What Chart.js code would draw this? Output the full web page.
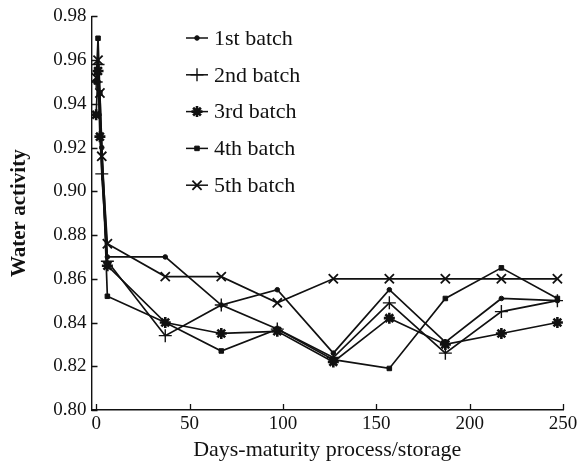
<!DOCTYPE html>
<html>
<head>
<meta charset="utf-8">
<script src="https://cdn.jsdelivr.net/npm/chart.js@4/dist/chart.umd.min.js"></script>
<style>
  html, body { margin: 0; padding: 0; background: #fff; }
  #wrap { width: 582px; height: 465px; position: relative; }
</style>
</head>
<body>
<div id="wrap"><canvas id="c" width="582" height="465"></canvas></div>
<script>
// ---- data ----
const seriesNames = ['1st batch', '2nd batch', '3rd batch', '4th batch', '5th batch'];
const tailDays = [6, 37, 67, 97, 127, 157, 187, 217, 247];

const batch1Days = [0, 1, 3];
const batch1Early = [0.955, 0.950, 0.920];
const batch1Tail = [0.870, 0.870, 0.848, 0.855, 0.826, 0.855, 0.831, 0.851, 0.850];

const batch2Days = [0, 1, 3];
const batch2Early = [0.950, 0.958, 0.908];
const batch2Tail = [0.868, 0.834, 0.848, 0.837, 0.824, 0.849, 0.826, 0.845, 0.850];

const batch3Days = [0, 1, 2];
const batch3Early = [0.935, 0.955, 0.925];
const batch3Tail = [0.866, 0.840, 0.835, 0.836, 0.822, 0.842, 0.830, 0.835, 0.840];

const batch4Days = [0, 1, 2];
const batch4Early = [0.950, 0.970, 0.945];
const batch4Tail = [0.852, 0.840, 0.827, 0.837, 0.823, 0.819, 0.851, 0.865, 0.851];

const batch5Days = [0, 1, 2, 3];
const batch5Early = [0.952, 0.960, 0.945, 0.916];
const batch5Tail = [0.876, 0.861, 0.861, 0.849, 0.860, 0.860, 0.860, 0.860, 0.860];

const xTicks = [0, 50, 100, 150, 200, 250];
const yTicks = [0.80, 0.82, 0.84, 0.86, 0.88, 0.90, 0.92, 0.94, 0.96, 0.98];

// ---- build ----
function pts(days, early, tail) {
  const out = [];
  days.forEach((d, i) => out.push({x: d, y: early[i]}));
  tailDays.forEach((d, i) => out.push({x: d, y: tail[i]}));
  return out;
}
const allData = [
  pts(batch1Days, batch1Early, batch1Tail),
  pts(batch2Days, batch2Early, batch2Tail),
  pts(batch3Days, batch3Early, batch3Tail),
  pts(batch4Days, batch4Early, batch4Tail),
  pts(batch5Days, batch5Early, batch5Tail)
];
const styles = [
  {pointStyle: 'circle', radius: 2.3, borderWidth: 1},
  {pointStyle: 'cross', radius: 6.5, borderWidth: 1.4},
  {pointStyle: 'star', radius: 5.5, borderWidth: 2.6},
  {pointStyle: 'rect', radius: 3.2, borderWidth: 1},
  {pointStyle: 'crossRot', radius: 6.5, borderWidth: 1.8}
];
const INK = '#111';
const datasets = allData.map((d, i) => ({
  label: seriesNames[i],
  data: d,
  borderColor: INK,
  backgroundColor: INK,
  borderWidth: 1.7,
  pointStyle: styles[i].pointStyle,
  pointRadius: styles[i].radius,
  pointBorderWidth: styles[i].borderWidth,
  pointBackgroundColor: INK,
  pointBorderColor: INK,
  tension: 0,
  fill: false
}));

const SERIF = "'Liberation Serif', 'DejaVu Serif', serif";

const inwardTicks = {
  id: 'inwardTicks',
  afterDatasetsDraw(chart) {
    const ctx = chart.ctx;
    const xs = chart.scales.x, ys = chart.scales.y;
    const a = chart.chartArea;
    ctx.save();
    ctx.strokeStyle = INK;
    ctx.lineWidth = 1.3;
    ctx.beginPath();
    yTicks.forEach(v => {
      const py = Math.round(ys.getPixelForValue(v)) + 0.5;
      ctx.moveTo(a.left, py); ctx.lineTo(a.left + 6, py);
    });
    xTicks.forEach(v => {
      const px = Math.round(xs.getPixelForValue(v)) + 0.5;
      ctx.moveTo(px, a.bottom); ctx.lineTo(px, a.bottom - 6);
    });
    ctx.stroke();
    ctx.restore();
  }
};

const customLegend = {
  id: 'customLegend',
  afterDatasetsDraw(chart) {
    const ctx = chart.ctx;
    ctx.save();
    const x0 = 186, x1 = 208, tx = 214, y0 = 38, dy = 36.8;
    chart.data.datasets.forEach((ds, i) => {
      const y = y0 + i * dy;
      ctx.strokeStyle = INK; ctx.fillStyle = INK; ctx.lineWidth = 1.5;
      ctx.beginPath(); ctx.moveTo(x0, y); ctx.lineTo(x1, y); ctx.stroke();
      ctx.lineWidth = ds.pointBorderWidth;
      Chart.helpers.drawPoint(ctx, {pointStyle: ds.pointStyle, radius: ds.pointRadius, borderWidth: ds.pointBorderWidth, rotation: 0}, (x0 + x1) / 2, y);
      ctx.fillStyle = INK;
      ctx.font = "22px " + SERIF;
      ctx.textBaseline = 'middle';
      ctx.textAlign = 'left';
      ctx.fillText(ds.label, tx, y + 1);
    });
    ctx.restore();
  }
};

new Chart(document.getElementById('c'), {
  type: 'line',
  data: {datasets},
  plugins: [inwardTicks, customLegend],
  options: {
    responsive: false,
    animation: false,
    devicePixelRatio: 1,
    layout: {padding: {top: 15, right: 19, left: 0, bottom: 0}},
    plugins: {legend: {display: false}, tooltip: {enabled: false}},
    scales: {
      x: {
        type: 'linear',
        min: -2.5, max: 250,
        afterBuildTicks(s) { s.ticks = xTicks.map(v => ({value: v})); },
        afterFit(s) { s.height = 55; },
        grid: {display: true, drawOnChartArea: false, drawTicks: false},
        border: {display: true, color: INK, width: 1.4},
        ticks: {color: INK, font: {family: SERIF, size: 19}, padding: 3, maxRotation: 0,
                callback: v => String(v)},
        title: {display: true, text: 'Days-maturity process/storage', color: INK,
                font: {family: SERIF, size: 22}, padding: {top: 0, bottom: 2}}
      },
      y: {
        type: 'linear',
        min: 0.80, max: 0.98,
        afterBuildTicks(s) { s.ticks = yTicks.map(v => ({value: v})); },
        afterFit(s) { s.width = 91.5; },
        grid: {display: true, drawOnChartArea: false, drawTicks: false},
        border: {display: true, color: INK, width: 1.4},
        ticks: {color: INK, font: {family: SERIF, size: 19}, padding: 5,
                callback: v => Number(v).toFixed(2)},
        title: {display: true, text: 'Water activity', color: INK,
                font: {family: SERIF, size: 21, weight: 'bold'}, padding: {top: 7, bottom: 0}}
      }
    }
  }
});
</script>
</body>
</html>
